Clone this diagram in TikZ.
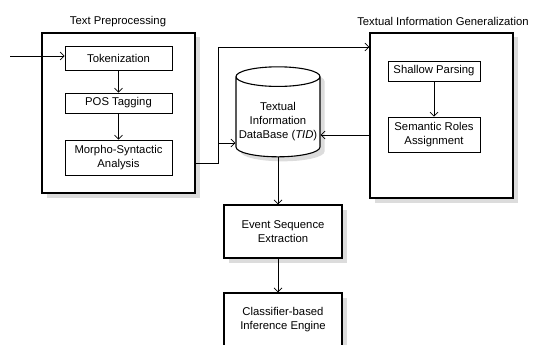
\documentclass[tikz,border=0pt]{standalone}
\usepackage{fontspec}
\setmainfont{Liberation Sans}
\usetikzlibrary{shapes.geometric,shadows,arrows.meta}

\tikzset{
    box/.style={draw, line width=0.8pt, fill=white, align=center, inner sep=0pt},
    shadowbox/.style={box, line width=1.1pt, drop shadow={shadow xshift=4.5pt, shadow yshift=-4.5pt, fill=gray!55}},
    flow/.style={-{Straight Barb[length=4pt,width=8pt]}, line width=0.7pt},
    title/.style={inner sep=0pt}
}

\begin{document}
\begin{tikzpicture}[x=1pt, y=-1pt, font=\fontsize{11.3}{14}\selectfont]
    \path[use as bounding box] (0,0) rectangle (538,345);
    \begin{scope}
    \clip (0,0) rectangle (538,345);
    \node[shadowbox, minimum width=153, minimum height=160] (tp) at (118.5,113) {};
    \node[title] (tptitle) at (118,22) {Text Preprocessing};
    \node[box, minimum width=107, minimum height=24] (tok) at (118.5,58) {Tokenization};
    \node[box, minimum width=107, minimum height=20] (pos) at (118.5,103) {POS Tagging};
    \node[box, minimum width=107, minimum height=35] (morph) at (118.5,157.5) {Morpho-Syntactic\\Analysis};
    \node[shadowbox, minimum width=143, minimum height=165] (tig) at (441.5,115.5) {};
    \node[title] (tigtitle) at (443,21) {Textual Information Generalization};
    \node[box, minimum width=92, minimum height=20] (shallow) at (434,71) {Shallow Parsing};
    \node[box, minimum width=92, minimum height=35] (roles) at (434,134.5) {Semantic Roles\\Assignment};
    \node[shadowbox, cylinder, shape border rotate=90, shape aspect=0.25, minimum width=84, minimum height=90] (tid) at (278,117) {\\[4pt]Textual\\Information\\DataBase (\emph{TID})};
    \node[shadowbox, minimum width=118, minimum height=53] (event) at (283,231.5) {Event Sequence\\Extraction};
    \node[shadowbox, minimum width=118, minimum height=53] (engine) at (283,319.5) {Classifier-based\\Inference Engine};
    \coordinate (input) at (10,56);
    \coordinate (bend) at (218,163);
    \coordinate (top) at (218,47);
    \coordinate (feed) at (218,143);
    \coordinate (back) at (370,135);
    \draw[flow] (input) -- (input -| tok.west);
    \draw[flow] (tok) -- (pos);
    \draw[flow] (pos) -- (morph);
    \draw[flow] (bend -| tp.east) -- (bend) -- (top) -- (top -| tig.west);
    \draw[flow] (feed) -- (feed -| tid.west);
    \draw[flow] (shallow) -- (roles);
    \draw[flow] (back) -- (back -| tid.east);
    \draw[flow] (tid.south) -- (tid.south |- event.north);
    \draw[flow] (tid.south |- event.south) -- (tid.south |- engine.north);
    \end{scope}
\end{tikzpicture}
\end{document}
